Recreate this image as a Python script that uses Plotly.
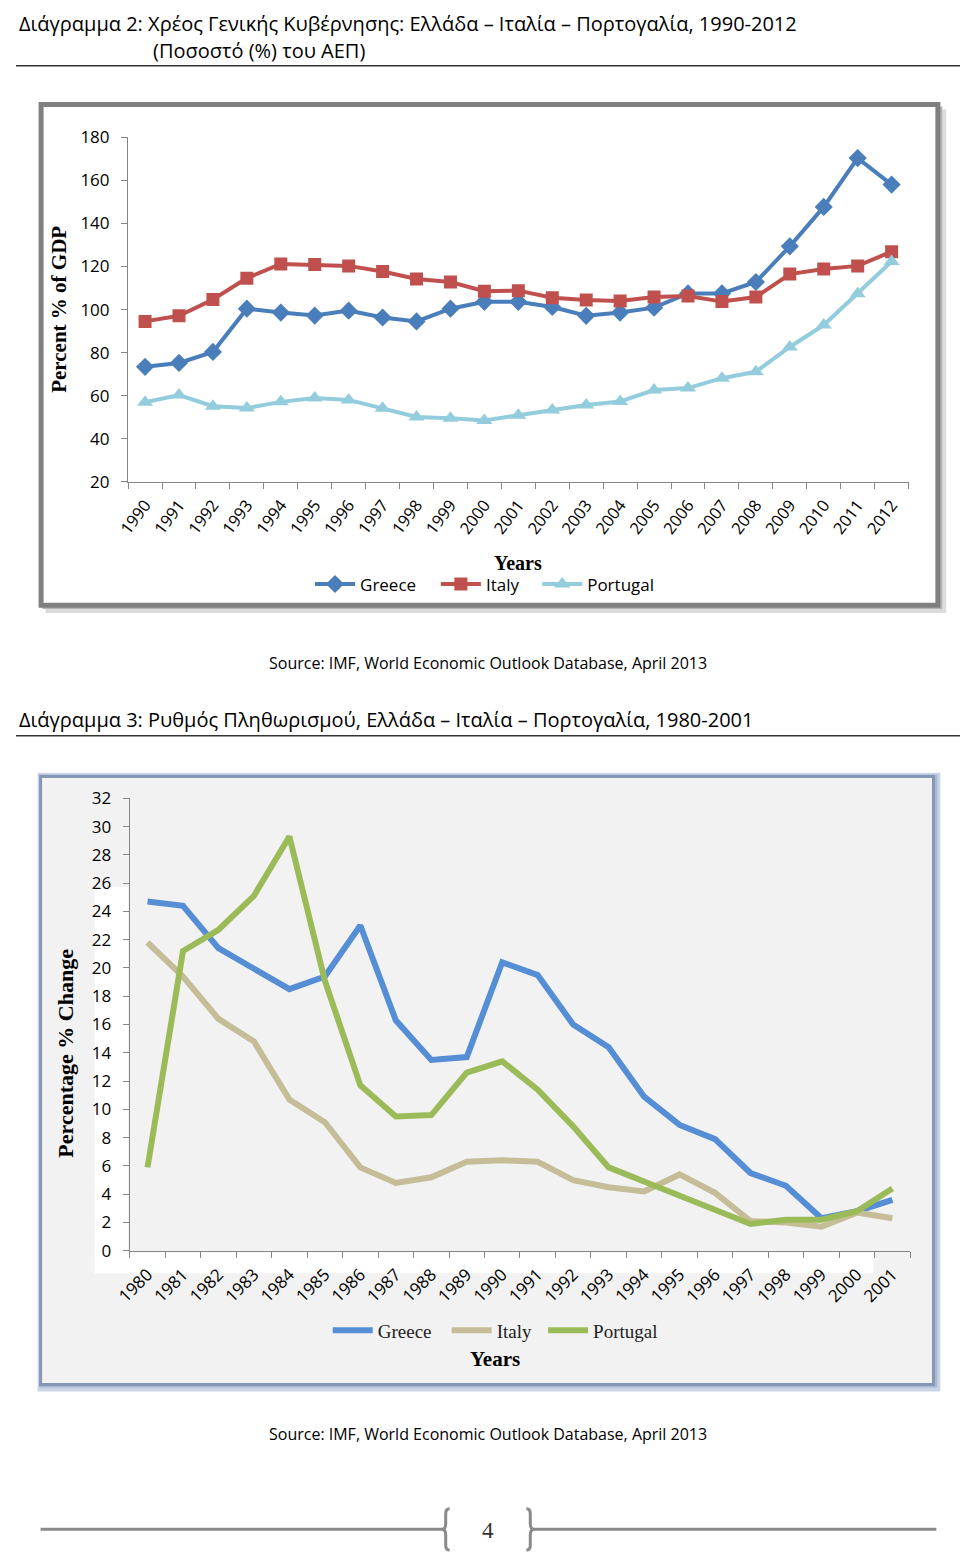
import plotly.graph_objects as go

W, H = 960, 1565

# ---------------- data ----------------
years_debt = ["1990", "1991", "1992", "1993", "1994", "1995", "1996", "1997", "1998", "1999", "2000",
              "2001", "2002", "2003", "2004", "2005", "2006", "2007", "2008", "2009", "2010", "2011", "2012"]
greece_debt = [73.4, 75.2, 80.3, 100.4, 98.6, 97.2, 99.5, 96.3, 94.5, 100.4, 103.6, 103.6,
               101.2, 97.1, 98.6, 100.9, 107.5, 107.5, 112.8, 129.4, 147.7, 170.4, 158.1]
italy_debt = [94.5, 97.1, 104.7, 114.6, 121.2, 120.9, 120.3, 117.7, 114.2, 112.8, 108.5, 108.8,
              105.5, 104.4, 104.0, 105.8, 106.3, 103.7, 105.8, 116.5, 118.9, 120.3, 126.9]
portugal_debt = [56.9, 60.3, 55.1, 54.2, 57.1, 58.9, 58.0, 54.1, 50.1, 49.5, 48.4, 50.9,
                 53.3, 55.6, 57.3, 62.6, 63.5, 68.1, 71.1, 82.6, 92.8, 107.3, 122.3]

years_infl = ["1980", "1981", "1982", "1983", "1984", "1985", "1986", "1987", "1988", "1989", "1990",
              "1991", "1992", "1993", "1994", "1995", "1996", "1997", "1998", "1999", "2000", "2001"]
greece_infl = [24.7, 24.4, 21.4, 19.9, 18.5, 19.4, 23.0, 16.3, 13.5, 13.7, 20.4,
               19.5, 16.0, 14.4, 10.9, 8.9, 7.9, 5.5, 4.6, 2.3, 2.8, 3.6]
italy_infl = [21.8, 19.4, 16.4, 14.8, 10.7, 9.1, 5.9, 4.8, 5.2, 6.3, 6.4,
              6.3, 5.0, 4.5, 4.2, 5.4, 4.1, 2.1, 2.0, 1.7, 2.7, 2.3]
portugal_infl = [5.9, 21.2, 22.7, 25.1, 29.3, 19.1, 11.7, 9.5, 9.6, 12.6, 13.4,
                 11.4, 8.8, 5.9, 4.9, 3.9, 2.8, 1.9, 2.2, 2.2, 2.8, 4.4]

# ---------------- helpers (pixel -> paper) ----------------
def X(p):
    return p / W

def Y(p):
    return 1 - p / H

SANS = "Open Sans"
SERIF = "Liberation Serif"

fig = go.Figure()

# Chart 1 traces
fig.add_trace(go.Scatter(x=years_debt, y=greece_debt, name="Greece", mode="lines+markers",
                         line=dict(color="#4a7ebb", width=4),
                         marker=dict(symbol="diamond", size=14, color="#4a7ebb"),
                         xaxis="x", yaxis="y", legend="legend"))
fig.add_trace(go.Scatter(x=years_debt, y=italy_debt, name="Italy", mode="lines+markers",
                         line=dict(color="#c0504d", width=4),
                         marker=dict(symbol="square", size=13, color="#c0504d"),
                         xaxis="x", yaxis="y", legend="legend2"))
fig.add_trace(go.Scatter(x=years_debt, y=portugal_debt, name="Portugal", mode="lines+markers",
                         line=dict(color="#93cddd", width=4),
                         marker=dict(symbol="triangle-up", size=14, color="#93cddd"),
                         xaxis="x", yaxis="y", legend="legend3"))

# Chart 2 traces
fig.add_trace(go.Scatter(x=years_infl, y=greece_infl, name="Greece", mode="lines",
                         line=dict(color="#558ed5", width=6),
                         xaxis="x2", yaxis="y2", legend="legend4"))
fig.add_trace(go.Scatter(x=years_infl, y=italy_infl, name="Italy", mode="lines",
                         line=dict(color="#c4bd97", width=6),
                         xaxis="x2", yaxis="y2", legend="legend5"))
fig.add_trace(go.Scatter(x=years_infl, y=portugal_infl, name="Portugal", mode="lines",
                         line=dict(color="#9bbb59", width=6),
                         xaxis="x2", yaxis="y2", legend="legend6"))

axis_common = dict(showgrid=False, zeroline=False, showline=True, linecolor="#868686", linewidth=1.3,
                   ticks="outside", ticklen=6, tickcolor="#868686", tickwidth=1.3)

shapes = []
# Chart 1 frame with shadow
shapes.append(dict(type="rect", xref="paper", yref="paper", layer="below",
                   x0=X(30), x1=X(946), y0=Y(610), y1=Y(99), fillcolor="#dcdcdc", line=dict(width=0)))
shapes.append(dict(type="rect", xref="paper", yref="paper", layer="below",
                   x0=X(27), x1=X(942), y0=Y(606), y1=Y(96), fillcolor="#b4b4b4", line=dict(width=0)))
shapes.append(dict(type="rect", xref="paper", yref="paper", layer="below",
                   x0=X(25.5), x1=X(937.5), y0=Y(602), y1=Y(94), fillcolor="white",
                   line=dict(color="#7f7f7f", width=5)))
# Chart 2 frame with shadow
shapes.append(dict(type="rect", xref="paper", yref="paper", layer="below",
                   x0=X(22), x1=X(940), y0=Y(1400), y1=Y(772), fillcolor="#c9d4e6", line=dict(width=0)))
shapes.append(dict(type="rect", xref="paper", yref="paper", layer="below",
                   x0=X(23.5), x1=X(937), y0=Y(1396), y1=Y(774), fillcolor="#aab9d2", line=dict(width=0)))
shapes.append(dict(type="rect", xref="paper", yref="paper", layer="below",
                   x0=X(25), x1=X(933), y0=Y(1393), y1=Y(776), fillcolor="#f2f2f2",
                   line=dict(color="#8497b5", width=3)))
# white patches inside chart 2
shapes.append(dict(type="rect", xref="paper", yref="paper", layer="below",
                   x0=X(80), x1=X(114), y0=Y(1280), y1=Y(888), fillcolor="white", line=dict(width=0)))
shapes.append(dict(type="rect", xref="paper", yref="paper", layer="below",
                   x0=X(80), x1=X(872), y0=Y(1280), y1=Y(1259), fillcolor="white", line=dict(width=0)))
# Heading rules
shapes.append(dict(type="line", xref="paper", yref="paper", x0=0, x1=1, y0=Y(54.5), y1=Y(54.5),
                   line=dict(color="#333333", width=1.5)))
shapes.append(dict(type="line", xref="paper", yref="paper", x0=0, x1=1, y0=Y(734.5), y1=Y(734.5),
                   line=dict(color="#333333", width=1.5)))
# Footer rule
shapes.append(dict(type="line", xref="paper", yref="paper", x0=X(25), x1=X(434), y0=Y(1540), y1=Y(1540),
                   line=dict(color="#8a8a8a", width=3)))
shapes.append(dict(type="line", xref="paper", yref="paper", x0=X(526), x1=X(936), y0=Y(1540), y1=Y(1540),
                   line=dict(color="#8a8a8a", width=3)))

def bracket(xc, d):
    pts = [
        ("M", xc + 4 * d, 1519), ("Q", xc, 1519, xc, 1524), ("L", xc, 1534),
        ("Q", xc, 1540, xc - 4 * d, 1540), ("Q", xc, 1540, xc, 1546), ("L", xc, 1556),
        ("Q", xc, 1561, xc + 4 * d, 1561)]
    s = ""
    for p in pts:
        coords = p[1:]
        parts = [f"{X(coords[i]):.5f},{Y(coords[i + 1]):.5f}" for i in range(0, len(coords), 2)]
        s += p[0] + " " + " ".join(parts) + " "
    return s

shapes.append(dict(type="path", xref="paper", yref="paper", path=bracket(437, 1),
                   line=dict(color="#8a8a8a", width=3)))
shapes.append(dict(type="path", xref="paper", yref="paper", path=bracket(523, -1),
                   line=dict(color="#8a8a8a", width=3)))

annotations = []
def text(t, x, y, size, family=SANS, xanchor="left", bold=False, angle=0, color="#000000"):
    if bold:
        t = "<b>" + t + "</b>"
    annotations.append(dict(text=t, x=X(x), y=Y(y), xref="paper", yref="paper", showarrow=False,
                            xanchor=xanchor, yanchor="middle", textangle=angle,
                            font=dict(family=family, size=size, color=color)))

text("Διάγραμμα 2: Χρέος Γενικής Κυβέρνησης: Ελλάδα – Ιταλία – Πορτογαλία, 1990-2012", 1, 12, 20)
text("(Ποσοστό (%) του ΑΕΠ)", 137, 39, 20)
text("Source: IMF, World Economic Outlook Database, April 2013", 480, 661, 16, xanchor="center")
text("Διάγραμμα 3: Ρυθμός Πληθωρισμού, Ελλάδα – Ιταλία – Πορτογαλία, 1980-2001", 1, 718, 20)
text("Source: IMF, World Economic Outlook Database, April 2013", 480, 1443, 16, xanchor="center")
text("4", 480, 1541, 23, family=SERIF, xanchor="center", color="#333333")

# axis titles
text("Percent % of GDP", 43, 302, 21, family=SERIF, xanchor="center", bold=True, angle=-90)
text("Years", 511, 559, 20, family=SERIF, xanchor="center", bold=True)
text("Percentage % Change", 50, 1057, 22, family=SERIF, xanchor="center", bold=True, angle=-90)
text("Years", 487, 1367, 21, family=SERIF, xanchor="center", bold=True)

def leg(xpix, ypix, family, size, color):
    return dict(orientation="h", x=X(xpix), y=Y(ypix), xanchor="left", yanchor="middle",
                bgcolor="rgba(0,0,0,0)", font=dict(family=family, size=size, color=color),
                itemwidth=40, tracegroupgap=0)

fig.update_layout(
    width=W, height=H,
    margin=dict(l=0, r=0, t=0, b=0),
    paper_bgcolor="white", plot_bgcolor="rgba(0,0,0,0)",
    shapes=shapes, annotations=annotations,
    xaxis=dict(domain=[X(114), X(907.7)], anchor="y", type="category", tickson="boundaries",
               range=[-0.5, 22.5], tickangle=-53, ticklabelstandoff=6,
               tickfont=dict(family=SANS, size=16.5, color="#000"), **axis_common),
    yaxis=dict(domain=[Y(476.7), Y(127.3)], anchor="x", range=[20, 180], dtick=20,
               ticklabelstandoff=8, tickfont=dict(family=SANS, size=17, color="#000"), **axis_common),
    xaxis2=dict(domain=[X(115.7), X(909.3)], anchor="y2", type="category", tickson="boundaries",
                range=[-0.5, 21.5], tickangle=-45, ticklabelstandoff=6,
                tickfont=dict(family=SANS, size=17, color="#000"), **axis_common),
    yaxis2=dict(domain=[Y(1257.3), Y(798)], anchor="x2", range=[0, 32], dtick=2,
                ticklabelstandoff=8, tickfont=dict(family=SANS, size=17, color="#000"), **axis_common),
    legend=leg(299, 581, SANS, 17, "#000"),
    legend2=leg(427, 581, SANS, 17, "#000"),
    legend3=leg(530, 581, SANS, 17, "#000"),
    legend4=leg(317, 1338, SERIF, 19, "#222"),
    legend5=leg(438, 1338, SERIF, 19, "#222"),
    legend6=leg(536, 1338, SERIF, 19, "#222"),
    showlegend=True,
)

css_js = (
    "var s=document.createElement('style');"
    "s.innerHTML='html,body{margin:0!important;padding:0!important;overflow:hidden!important;"
    "width:960px;height:1565px;} .plotly-graph-div{position:absolute!important;left:0;top:0;}';"
    "document.head.appendChild(s);"
)

fig.write_html("out.html", config={"displayModeBar": False, "responsive": False},
               post_script=css_js)
